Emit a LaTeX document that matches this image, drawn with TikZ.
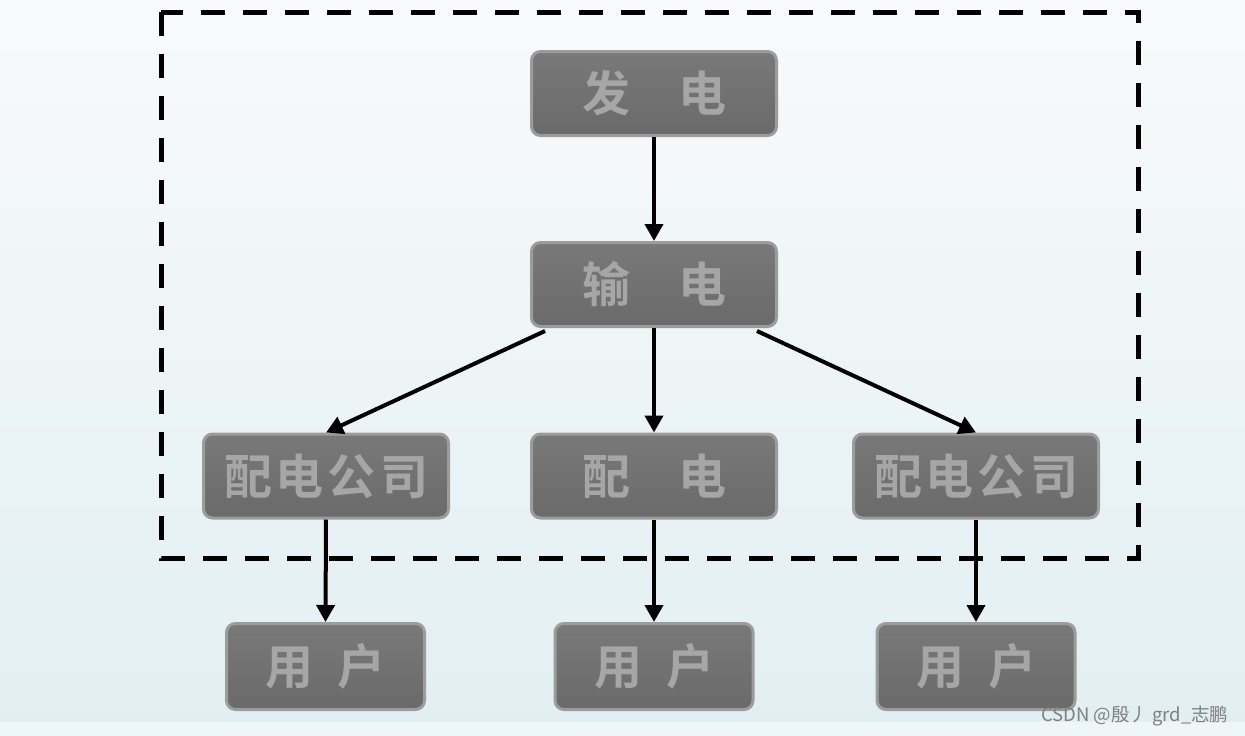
\documentclass[tikz,border=0pt]{standalone}
\usepackage{fontspec}
\newfontfamily\cjkb[BoldFont=* Bold]{Noto Sans CJK SC}
\newfontfamily\cjkr{Noto Sans CJK SC}
\usetikzlibrary{arrows.meta}
\definecolor{bgtop}{HTML}{F8FAFB}
\definecolor{bgbot}{HTML}{E2EFF2}
\definecolor{boxfill}{HTML}{6A6A6A}
\definecolor{boxtop}{HTML}{797979}
\definecolor{boxedge}{HTML}{9C9C9C}
\definecolor{boxtext}{HTML}{A6A6A6}
\tikzset{
  stage/.style={rectangle, rounded corners=9pt, draw=boxedge, line width=3pt,
    top color=boxtop, bottom color=boxfill, text=boxtext,
    font=\cjkb\bfseries\fontsize{48}{52}\selectfont,
    minimum width=245pt, minimum height=84pt, inner sep=0pt},
  user/.style={stage, minimum width=198pt, minimum height=86pt},
  flow/.style={line width=4pt, -{Triangle[length=17pt,width=18pt]}},
  frame/.style={line width=5pt, dash pattern=on 24pt off 18pt}
}
\newcommand{\ks}{\hspace{4pt}}
\begin{document}
\begin{tikzpicture}[x=1pt,y=-1pt]
\useasboundingbox (0,0) rectangle (1245,736);
\shade[top color=bgtop, bottom color=bgbot] (0,0) rectangle (1245,722);
\fill[bgtop!60!bgbot] (0,722) rectangle (1245,736);
\draw[frame] (161,12) rectangle (1138,558);
\node[stage] (gen) at (654,93.5) {发　电};
\node[stage] (tra) at (654,284.5) {输　电};
\node[stage] (dl) at (326,476) {配\ks 电\ks 公\ks 司};
\node[stage] (dm) at (654,476) {配　电};
\node[stage] (dr) at (976,476) {配\ks 电\ks 公\ks 司};
\node[user] (ul) at (325.5,666.5) {用\hspace{0.5em}户};
\node[user] (um) at (654,666.5) {用\hspace{0.5em}户};
\node[user] (ur) at (976,666.5) {用\hspace{0.5em}户};
\draw[flow] (gen.south) -- (tra.north);
\draw[flow] (tra.south) -- (dm.north);
\draw[flow] ([xshift=15pt,yshift=-3pt]tra.south west) -- (dl.north);
\draw[flow] ([xshift=-21pt,yshift=-3pt]tra.south east) -- (dr.north);
\draw[flow] (dl.south) -- (ul.north);
\draw[flow] (dm.south) -- (um.north);
\draw[flow] (dr.south) -- (ur.north);
\node[text=gray, font=\cjkr\fontsize{18.5}{20}\selectfont, anchor=east] (wm) at (1232,716) {CSDN @殷丿 grd\_志鹏};
\end{tikzpicture}
\end{document}
